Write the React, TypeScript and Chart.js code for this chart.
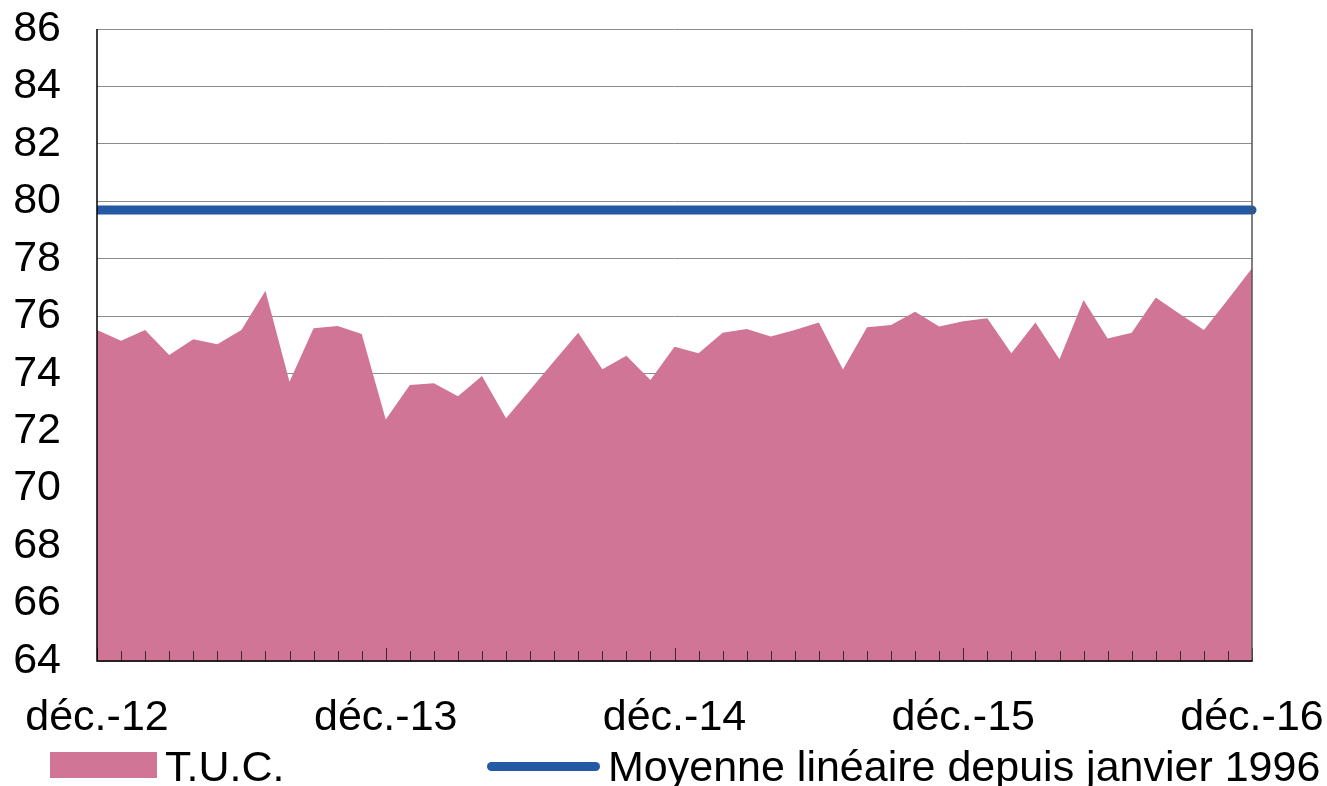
import React, { useEffect, useRef } from "react";
import { Chart, registerables } from "chart.js";

Chart.register(...registerables);

// ---- data ----
const MONTH_LABELS = [
  "déc.-12",
  "janv.-13", "févr.-13", "mars-13", "avr.-13", "mai-13", "juin-13", "juil.-13", "août-13", "sept.-13", "oct.-13", "nov.-13", "déc.-13",
  "janv.-14", "févr.-14", "mars-14", "avr.-14", "mai-14", "juin-14", "juil.-14", "août-14", "sept.-14", "oct.-14", "nov.-14", "déc.-14",
  "janv.-15", "févr.-15", "mars-15", "avr.-15", "mai-15", "juin-15", "juil.-15", "août-15", "sept.-15", "oct.-15", "nov.-15", "déc.-15",
  "janv.-16", "févr.-16", "mars-16", "avr.-16", "mai-16", "juin-16", "juil.-16", "août-16", "sept.-16", "oct.-16", "nov.-16", "déc.-16",
];

const TUC_VALUES = [
  75.52, 75.15, 75.52, 74.65, 75.2, 75.03, 75.52, 76.89, 73.72, 75.58,
  75.66, 75.38, 72.41, 73.61, 73.67, 73.22, 73.92, 72.45, 73.44, 74.44,
  75.43, 74.16, 74.63, 73.78, 74.94, 74.71, 75.43, 75.56, 75.3, 75.52,
  75.78, 74.15, 75.62, 75.7, 76.16, 75.64, 75.83, 75.93, 74.71, 75.78,
  74.5, 76.57, 75.23, 75.43, 76.65, 76.08, 75.52, 76.58, 77.67,
];

const MOYENNE_VALUES = [79.7, 79.7]; // first and last month

const SERIES_NAMES = ["T.U.C.", "Moyenne linéaire depuis janvier 1996"];

const Y_MIN = 64;
const Y_MAX = 86;
const Y_STEP = 2;
const LABEL_EVERY = 12;

// ---- style ----
const FONT = '"Liberation Sans", Arial, Helvetica, sans-serif';
const PINK = "#D17596";
const BLUE = "#2359A5";
const GRID = "#8c8c8c";

const framePlugin = {
  id: "frame",
  afterDatasetsDraw(chart: any) {
    const { ctx, chartArea: a, scales } = chart;
    const x = scales.x;
    ctx.save();
    // inward tick marks
    ctx.strokeStyle = "#3a2a30";
    ctx.lineWidth = 1;
    x.ticks.forEach((_t: any, i: number) => {
      const px = Math.round(x.getPixelForTick(i)) + 0.5;
      const len = i % LABEL_EVERY === 0 ? 13 : 10;
      ctx.beginPath();
      ctx.moveTo(px, a.bottom);
      ctx.lineTo(px, a.bottom - len);
      ctx.stroke();
    });
    // right border
    ctx.strokeStyle = "#555555";
    ctx.lineWidth = 1.5;
    ctx.beginPath();
    ctx.moveTo(a.right, a.top);
    ctx.lineTo(a.right, a.bottom);
    ctx.stroke();
    // left & bottom axes
    ctx.strokeStyle = "#000000";
    ctx.lineWidth = 1.5;
    ctx.beginPath();
    ctx.moveTo(a.left, a.top);
    ctx.lineTo(a.left, a.bottom);
    ctx.lineTo(a.right + 0.75, a.bottom);
    ctx.stroke();
    ctx.restore();
  },
};

function ChartCanvas() {
  const ref = useRef<HTMLCanvasElement | null>(null);
  useEffect(() => {
    if (!ref.current) return;
    const last = MONTH_LABELS.length - 1;
    const chart = new Chart(ref.current, {
      type: "line",
      data: {
        labels: MONTH_LABELS,
        datasets: [
          {
            label: SERIES_NAMES[0],
            data: TUC_VALUES,
            backgroundColor: PINK,
            borderColor: PINK,
            borderWidth: 0,
            fill: "start",
            pointRadius: 0,
            tension: 0,
            order: 2,
          },
          {
            label: SERIES_NAMES[1],
            data: [
              { x: MONTH_LABELS[0], y: MOYENNE_VALUES[0] },
              { x: MONTH_LABELS[last], y: MOYENNE_VALUES[1] },
            ] as any,
            borderColor: BLUE,
            backgroundColor: BLUE,
            borderWidth: 9,
            borderCapStyle: "round",
            pointRadius: 0,
            fill: false,
            order: 1,
            clip: { left: 0, top: 10, right: 6, bottom: 10 },
          },
        ],
      },
      options: {
        responsive: false,
        animation: false,
        events: [],
        layout: { padding: { top: 29, right: 75, bottom: 0, left: 0 } },
        plugins: {
          legend: { display: false },
          tooltip: { enabled: false },
        },
        scales: {
          x: {
            type: "category",
            offset: false,
            grid: {
              display: true,
              drawOnChartArea: false,
              drawTicks: true,
              tickLength: 31,
              tickColor: "rgba(0,0,0,0)",
              color: "rgba(0,0,0,0)",
            },
            border: { display: false },
            ticks: {
              autoSkip: false,
              maxRotation: 0,
              minRotation: 0,
              padding: 0,
              color: "#000",
              font: { family: FONT, size: 43 },
              callback: (_v: any, i: number) => (i % LABEL_EVERY === 0 ? MONTH_LABELS[i] : ""),
            },
            afterFit: (s: any) => {
              s.height = 125;
            },
          },
          y: {
            min: Y_MIN,
            max: Y_MAX,
            grid: {
              color: GRID,
              lineWidth: 1,
              drawTicks: true,
              tickLength: 36,
              tickColor: "rgba(0,0,0,0)",
            },
            border: { display: false },
            ticks: {
              stepSize: Y_STEP,
              autoSkip: false,
              padding: 0,
              color: "#000",
              font: { family: FONT, size: 43 },
            },
            afterFit: (s: any) => {
              s.width = 97;
            },
          },
        },
      },
      plugins: [framePlugin],
    } as any);
    return () => chart.destroy();
  }, []);
  return <canvas ref={ref} width={1327} height={786} style={{ display: "block" }} />;
}

const legendText: React.CSSProperties = {
  position: "absolute",
  top: 745,
  font: `43px ${FONT}`,
  lineHeight: "43px",
  color: "#000",
  whiteSpace: "nowrap",
};

export default function App() {
  return (
    <div style={{ position: "absolute", left: 0, top: 0, width: 1327, height: 786, background: "#fff", overflow: "hidden" }}>
      <ChartCanvas />
      <div style={{ position: "absolute", left: 50, top: 752, width: 107, height: 26, background: PINK }} />
      <div style={{ ...legendText, left: 165 }}>{SERIES_NAMES[0]}</div>
      <div style={{ position: "absolute", left: 487, top: 762, width: 113, height: 9, borderRadius: 4.5, background: BLUE }} />
      <div style={{ ...legendText, left: 608 }}>{SERIES_NAMES[1]}</div>
    </div>
  );
}
